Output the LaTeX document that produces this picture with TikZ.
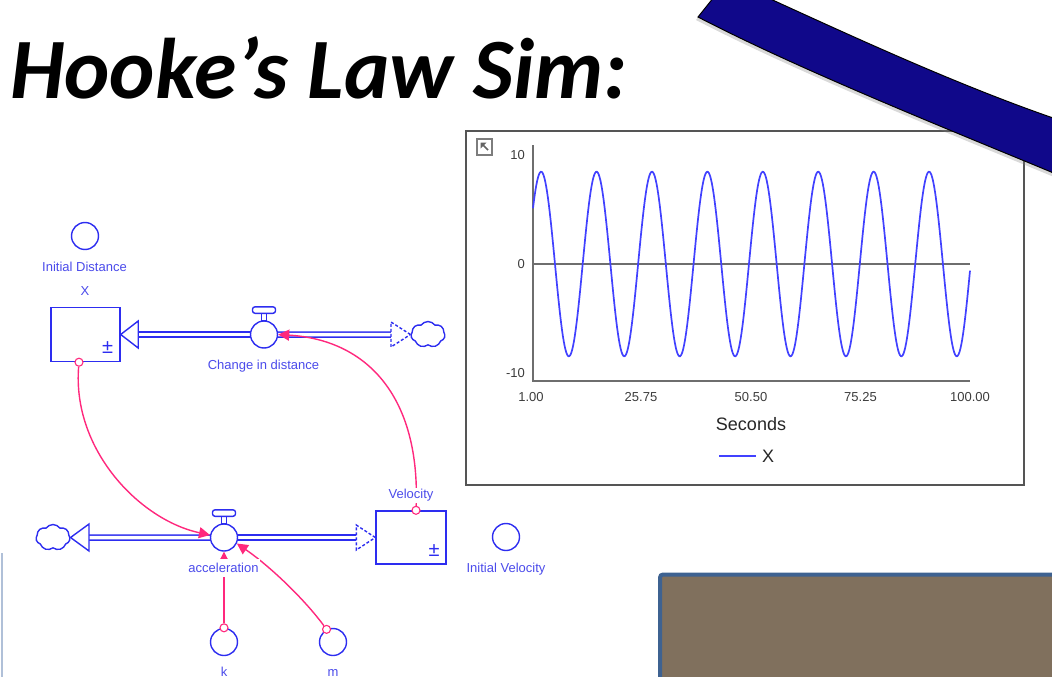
\documentclass[tikz,border=0pt]{standalone}
\usepackage{fontspec}
\setmainfont{Liberation Sans}
\newfontfamily\carlito{Carlito}
\usetikzlibrary{positioning,shapes.symbols,arrows.meta,backgrounds,shadows}
\definecolor{sdazul}{RGB}{45,45,240}
\definecolor{sdtexto}{RGB}{75,75,235}
\definecolor{rosa}{RGB}{255,40,125}
\definecolor{curva}{RGB}{65,65,255}
\definecolor{marco}{RGB}{85,85,85}
\definecolor{ejes}{RGB}{110,110,110}
\definecolor{numeros}{RGB}{60,60,60}
\definecolor{gris}{RGB}{125,125,125}
\definecolor{banda}{RGB}{16,8,138}
\definecolor{cafe}{RGB}{128,112,93}
\definecolor{bordecafe}{RGB}{62,98,145}
\definecolor{filo}{RGB}{176,192,216}
\tikzset{
  nivel/.style     = {draw=sdazul, line width=1.4pt, minimum width=69pt,
                      minimum height=54pt, inner sep=0pt},
  auxiliar/.style  = {circle, draw=sdazul, line width=1.4pt, minimum size=27pt, inner sep=0pt},
  valvula/.style   = {auxiliar, fill=white},
  nube/.style      = {cloud, cloud puffs=7, cloud puff arc=110, aspect=1.3, draw=sdazul,
                      line width=1.4pt, minimum width=34pt, minimum height=26pt, inner sep=0pt},
  tubo/.style      = {draw=sdazul, line width=1.5pt, double=white, double distance=3.5pt},
  punta/.style     = {draw=sdazul, line width=1.4pt, fill=white, line join=miter},
  hueca/.style     = {draw=sdazul, line width=1.4pt, dash pattern=on 3pt off 2pt},
  conector/.style  = {draw=rosa, line width=1.4pt, -{Triangle[length=11pt,width=11pt]}},
  enlace/.style    = {circle, draw=rosa, fill=white, line width=1.1pt, minimum size=8pt, inner sep=0pt},
  etiqueta/.style  = {font=\fontsize{13}{13}\selectfont, text=sdtexto, fill=white,
                      inner sep=1.5pt, anchor=base},
  signo/.style     = {font=\fontsize{20}{20}\selectfont, text=sdazul, inner sep=0pt},
  rotulo/.style    = {font=\fontsize{13}{13}\selectfont, text=numeros, inner sep=0pt}
}

\begin{document}
\begin{tikzpicture}[x=1pt,y=-1pt]
  \useasboundingbox (0,0) rectangle (1052,677);
  \clip (0,0) rectangle (1052,677);

  \node[font=\carlito\bfseries\itshape\fontsize{86}{86}\selectfont, anchor=base west,
        inner sep=0pt] (titulo) at (10,98) {Hooke’s Law Sim:};

  % diagrama de niveles y flujos
  \node[auxiliar] (iniD) at (85,236) {};
  \node[nivel] (X) at (85.5,334.5) {};
  \node[signo] (masX) at (107.5,348) {±};
  \node[valvula] (cambio) at (264,334.5) {};
  \node[nube] (nubeD) at (428,334.5) {};

  \node[nivel, minimum width=70pt, minimum height=53pt] (V) at (411,537.5) {};
  \node[signo] (masV) at (434,551) {±};
  \node[valvula] (acel) at (224,537.5) {};
  \node[nube] (nubeA) at (53,537.5) {};
  \node[auxiliar] (iniV) at (506,537) {};
  \node[auxiliar] (k) at (224,642) {};
  \node[auxiliar] (m) at (333,642) {};

  \begin{scope}[on background layer]
    \draw[tubo] (cambio.center) -- ([xshift=17.5pt]X.east);
    \draw[tubo] (cambio.center) -- ([xshift=-19.5pt]nubeD.west);
    \draw[tubo] ([xshift=18.5pt]nubeA.east) -- (acel.center);
    \draw[tubo] (acel.center) -- ([xshift=-19pt]V.west);
  \end{scope}
  \draw[punta] (X.east) -- ++(17.5,-13.5) -- ++(0,27) -- cycle;
  \draw[hueca] (nubeD.west) -- ++(-19.5,-12.5) -- ++(0,25) -- cycle;
  \draw[punta] (nubeA.east) -- ++(18.5,-13.5) -- ++(0,27) -- cycle;
  \draw[hueca] (V.west) -- ++(-19,-12.5) -- ++(0,25) -- cycle;

  \foreach \v in {cambio,acel} {
    \draw[sdazul, line width=1.1pt, fill=white] ([xshift=-2.5pt]\v.north)
      rectangle ([xshift=2.5pt,yshift=7pt]\v.north);
    \draw[sdazul, line width=1.4pt, fill=white, rounded corners=2.5pt]
      ([xshift=-11.5pt,yshift=7pt]\v.north) rectangle ([xshift=11.5pt,yshift=13.5pt]\v.north);
  }

  \node[enlace] (enlX) at ([xshift=-6.5pt]X.south) {};
  \node[enlace] (enlV) at ([xshift=5pt]V.north) {};
  \node[enlace] (enlK) at (k.north) {};
  \node[enlace] (enlM) at (m.117) {};

  \draw[conector] (enlX) .. controls (72,450) and (140,520) .. (acel.170);
  \draw[conector] (enlV) .. controls (420,400) and (370,340) .. (cambio.east);
  \draw[conector] (enlK) -- (acel.south);
  \draw[conector] (enlM) .. controls (305,600) and (271,567) .. (acel.-25);

  \node[etiqueta] (lbliniD) at (84.5,271.5) {Initial Distance};
  \node[etiqueta] (lblX) at (85,295.5) {X};
  \node[etiqueta] (lblcambio) at (263.5,369.5) {Change in distance};
  \node[etiqueta, inner ysep=4pt] (lblacel) at (223.5,572.5) {acceleration};
  \node[etiqueta] (lblV) at (411,498.5) {Velocity};
  \node[etiqueta] (lbliniV) at (506,572.5) {Initial Velocity};
  \node[etiqueta] (lblk) at (224,676) {k};
  \node[etiqueta] (lblm) at (333,676) {m};

  % grafico
  \draw[marco, line width=1.6pt] (466,131) rectangle (1024,485);
  \draw[gris, line width=2pt] (477,139) rectangle (492,155);
  \fill[gris!80!black] (480.5,142.5) -- (486.5,142.5) -- (480.5,148.5) -- cycle;
  \draw[gris!80!black, line width=1.6pt] (482,144) -- (488,150);

  \draw[ejes, line width=1.5pt] (533,145) -- (533,381) -- (970,381);
  \draw[ejes, line width=1.2pt] (533,264) -- (970,264);
  \node[rotulo, anchor=east] (y10) at (525,155) {10};
  \node[rotulo, anchor=east] (y0) at (525,264) {0};
  \node[rotulo, anchor=east] (ym10) at (525,373) {-10};
  \foreach \xp/\t in {531/1.00, 641/25.75, 751/50.50, 860.5/75.25, 970/100.00}
    \node[rotulo] at (\xp,397) {\t};
  \node[rotulo, font=\fontsize{18}{18}\selectfont, text=black!85] (ejex) at (751,424) {Seconds};

  \draw[curva, line width=1.7pt] plot[domain=533:970, samples=500]
    (\x, {264 - 92.3*sin(6.4958*(\x-533) + 37.2)});

  \coordinate (leyA) at (719,456);
  \coordinate (leyB) at (756,456);
  \draw[curva, line width=2pt] (leyA) -- (leyB);
  \node[rotulo, font=\fontsize{18}{18}\selectfont, text=black!85, right=6pt of leyB] (leyX) {X};

  % decoracion
  \draw[black, line width=1pt, fill=banda,
        drop shadow={opacity=0.3, shadow xshift=-2pt, shadow yshift=-3pt}]
    (698,17) -- (714,-3) -- (766,-3) .. controls (858,39) and (960,86) .. (1056,119)
    -- (1056,174) .. controls (950,130) and (800,70) .. (698,17) -- cycle;
  \draw[bordecafe, line width=4pt, fill=cafe, rounded corners=3pt] (660,574.5) rectangle (1070,700);
  \draw[filo, line width=1.6pt] (2,553) -- (2,680);
\end{tikzpicture}
\end{document}
